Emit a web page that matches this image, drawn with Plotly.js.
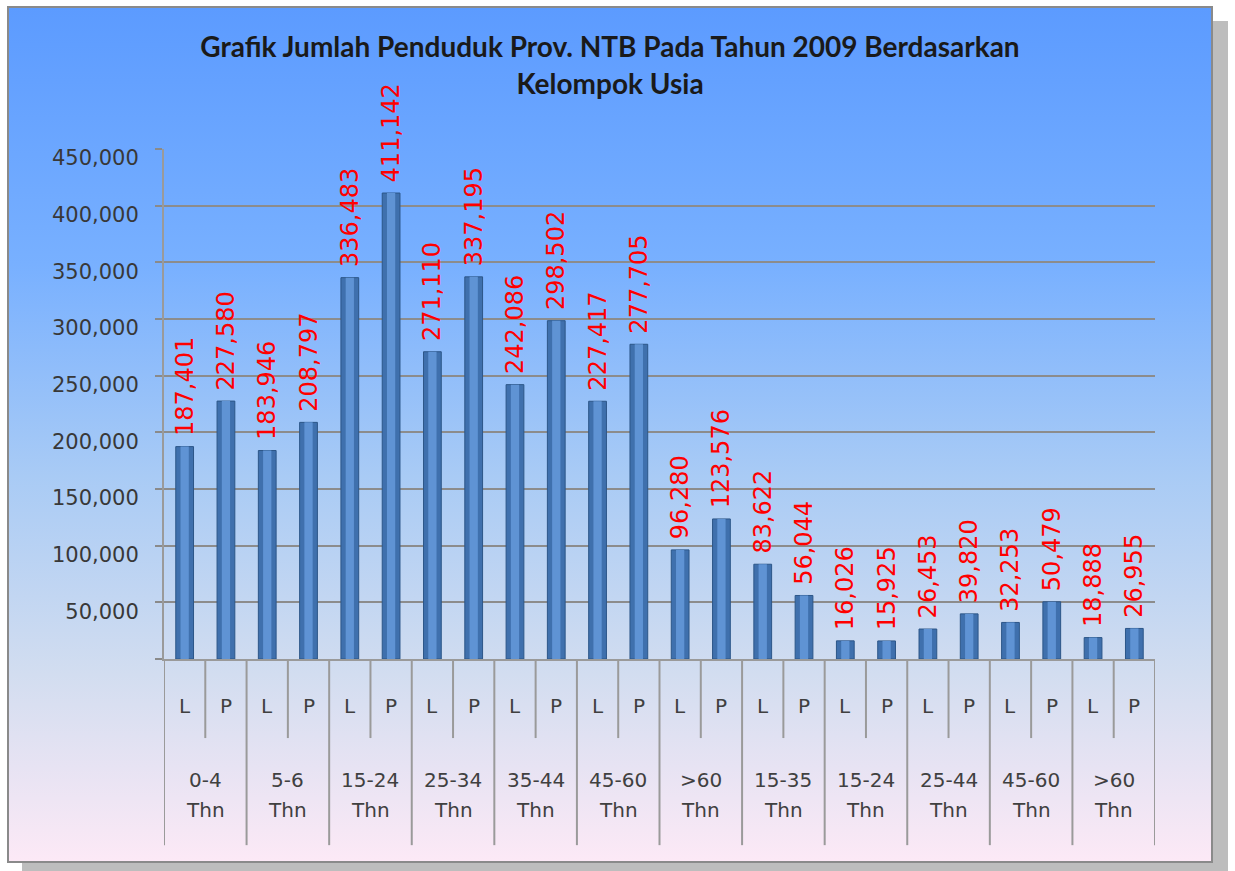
<!DOCTYPE html>
<html>
<head>
<meta charset="utf-8">
<script src="https://cdn.plot.ly/plotly-3.0.1.min.js"></script>
<style>
    body { margin: 0; background: #ffffff; }
    #frame {
        position: absolute;
        left: 7px;
        top: 6px;
        width: 1202px;
        height: 853px;
        border: 2px solid #8a8a8a;
        background: linear-gradient(to bottom, #5c9bff 0%, #78b0ff 30%, #a9cbf5 55%, #d2ddf0 78%, #fce9f6 100%);
        box-shadow: 15px 15px 0 #bdbdbd;
    }
</style>
</head>
<body>
<div id="frame"><div id="chart"></div></div>
<script>
// age groups (Thn) and counts per sex
var groups = ['0-4', '5-6', '15-24', '25-34', '35-44', '45-60', '>60', '15-35', '15-24', '25-44', '45-60', '>60'];
var sexes = ['L', 'P'];
var maleCounts = [187401, 183946, 336483, 271110, 242086, 227417, 96280, 83622, 16026, 26453, 32253, 18888];
var femaleCounts = [227580, 208797, 411142, 337195, 298502, 277705, 123576, 56044, 15925, 39820, 50479, 26955];
var yTicks = [0, 50000, 100000, 150000, 200000, 250000, 300000, 350000, 400000, 450000];

// interleave L / P so each bar gets its own slot
var cats = [], counts = [];
groups.forEach(function (g, i) {
    cats.push(i + '-L'); counts.push(maleCounts[i]);
    cats.push(i + '-P'); counts.push(femaleCounts[i]);
});

var labelFont = { family: 'DejaVu Sans', size: 20, color: '#404040' };

var data = [{
    type: 'bar',
    x: cats,
    y: counts,
    width: 0.43,
    marker: { color: '#3f70ad', line: { color: '#2c5688', width: 1 } },
    texttemplate: '\u00a0%{y:,}',
    textposition: 'outside',
    textangle: -90,
    constraintext: 'none',
    cliponaxis: false,
    textfont: { family: 'DejaVu Sans', size: 24, color: '#ff0000' },
    hoverinfo: 'y'
}, {
    // lighter core so the bars read a bit like cylinders
    type: 'bar',
    x: cats,
    y: counts,
    width: 0.2,
    marker: { color: '#5f93d4' },
    textposition: 'none',
    hoverinfo: 'skip'
}];

// table under the axis: dividers + labels
var shapes = [], annotations = [];
for (var k = 0; k <= cats.length; k++) {
    shapes.push({
        type: 'line', xref: 'x', yref: 'paper',
        x0: k - 0.5, x1: k - 0.5,
        y0: 0, y1: (k % 2 == 0) ? -0.365 : -0.155,
        line: { color: '#9a9a9a', width: 2 }
    });
}
cats.forEach(function (c, j) {
    annotations.push({
        xref: 'x', yref: 'paper', x: j, y: -0.12,
        text: sexes[j % 2], showarrow: false, font: labelFont
    });
});
groups.forEach(function (g, i) {
    annotations.push({
        xref: 'x', yref: 'paper', x: 2 * i + 0.5, y: -0.265,
        text: g, showarrow: false, font: labelFont
    });
    annotations.push({
        xref: 'x', yref: 'paper', x: 2 * i + 0.5, y: -0.324,
        text: 'Thn', showarrow: false, font: labelFont
    });
});

var layout = {
    width: 1202,
    height: 853,
    paper_bgcolor: 'rgba(0,0,0,0)',
    plot_bgcolor: 'rgba(0,0,0,0)',
    margin: { l: 155, r: 56, t: 141, b: 202, pad: 0 },
    title: {
        text: '<b>Grafik Jumlah Penduduk Prov. NTB Pada Tahun 2009 Berdasarkan<br>Kelompok Usia</b>',
        font: { family: 'Lato', size: 28, color: '#1a1a1a' },
        x: 0.5,
        xanchor: 'center',
        y: 0.942,
        yanchor: 'top'
    },
    barmode: 'overlay',
    showlegend: false,
    xaxis: {
        type: 'category',
        range: [-0.5, cats.length - 0.5],
        showticklabels: false,
        showgrid: false,
        showline: true,
        linecolor: '#9a9a9a',
        linewidth: 2,
        fixedrange: true
    },
    yaxis: {
        range: [0, 450000],
        tickvals: yTicks,
        ticktext: yTicks.map(function (v) { return v == 0 ? '' : v.toLocaleString('en-US'); }),
        ticks: 'outside',
        ticklen: 7,
        tickcolor: '#8a8a8a',
        tickwidth: 2,
        ticklabelstandoff: 12,
        ticklabelshift: 9,
        tickfont: { family: 'DejaVu Sans', size: 21, color: '#383838' },
        showline: true,
        linecolor: '#9a9a9a',
        linewidth: 2,
        gridcolor: '#8c8c8c',
        gridwidth: 2,
        zeroline: false,
        fixedrange: true
    },
    shapes: shapes,
    annotations: annotations
};

Plotly.newPlot('chart', data, layout, { displayModeBar: false });
</script>
</body>
</html>
